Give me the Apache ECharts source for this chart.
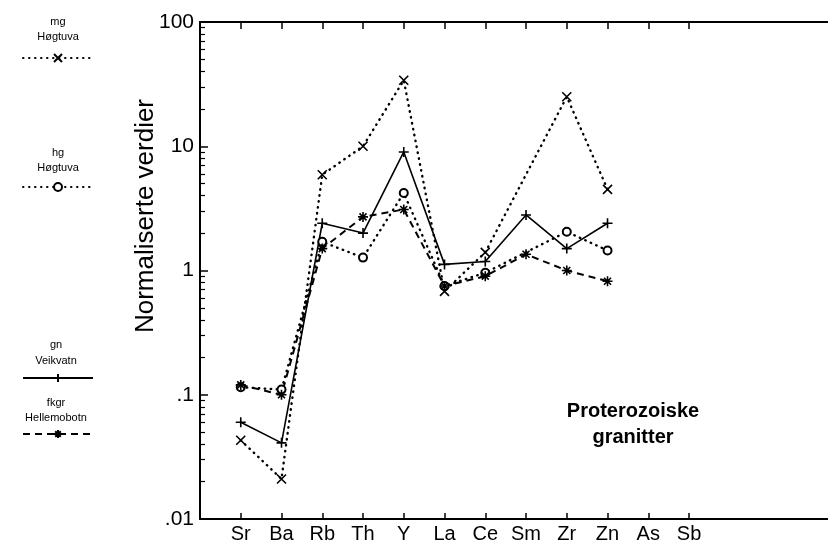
<!DOCTYPE html>
<html>
<head>
<meta charset="utf-8">
<script src="https://cdn.jsdelivr.net/npm/echarts@6/dist/echarts.min.js"></script>
<style>html,body{margin:0;padding:0;background:#fff}#c{width:828px;height:550px}</style>
</head>
<body>
<div id="c"></div>
<script>
const categories = ['Sr','Ba','Rb','Th','Y','La','Ce','Sm','Zr','Zn','As','Sb'];
// values per category (Sr..Zn); null = not plotted
const mgHogtuva      = [0.043, 0.021, 5.9, 10, 34, 0.68, 1.4, null, 25, 4.5];
const hgHogtuva      = [0.115, 0.11, 1.7, 1.27, 4.2, 0.75, 0.96, null, 2.05, 1.45];
const gnVeikvatn     = [0.06, 0.041, 2.4, 2.0, 9.0, 1.12, 1.18, 2.8, 1.5, 2.4];
const fkgrHellemobotn= [0.12, 0.1, 1.5, 2.7, 3.1, 0.75, 0.9, 1.35, 1.0, 0.82];
const yTickLabels = {0.01:'.01', 0.1:'.1', 1:'1', 10:'10', 100:'100'};

const FONT = 'Liberation Sans, Arial, sans-serif';
const toData = arr => arr.map((v,i)=>v==null?null:[i+1,v]).filter(d=>d);
const catIdx = categories.map((c,i)=>i+1);

const SYM_X = 'path://M0,0L10,10M10,0L0,10';
const SYM_PLUS = 'path://M5,0L5,10M0,5L10,5';
const SYM_STAR = 'path://M5,0L5,10M0,5L10,5M1.5,1.5L8.5,8.5M8.5,1.5L1.5,8.5';

function mk(name, data, symbol, size, lineStyle){
  return {
    name, type:'line', data: toData(data), symbol, symbolSize: size,
    connectNulls:true, clip:false,
    lineStyle: Object.assign({color:'#000'}, lineStyle),
    itemStyle:{color:'#000', borderColor:'#000', borderWidth:1.6},
    emphasis:{disabled:true}, animation:false
  };
}

const series = [
  mk('mg Høgtuva', mgHogtuva, SYM_X, 9, {width:2.4, type:[0.5,5.5], cap:'round'}),
  mk('hg Høgtuva', hgHogtuva, 'emptyCircle', 8, {width:2.4, type:[0.5,5.5], cap:'round'}),
  mk('gn Veikvatn', gnVeikvatn, SYM_PLUS, 10, {width:1.6, type:'solid'}),
  mk('fkgr Hellemobotn', fkgrHellemobotn, SYM_STAR, 10, {width:2, type:[7,5]})
];
series[1].itemStyle = {color:'#000', borderColor:'#000', borderWidth:1.6};

function legendAt(name, top){
  return {data:[name], left:22, top, itemWidth:70, itemHeight:10, itemGap:0, padding:0,
    selectedMode:false, formatter:()=>'', textStyle:{fontSize:1}};
}

const chart = echarts.init(document.getElementById('c'), null, {renderer:'canvas'});
chart.setOption({
  backgroundColor:'#fff',
  animation:false,
  grid:{left:200, right:0, top:22, bottom:31, containLabel:false},
  xAxis:[{
    type:'value', min:0, max:15.41, position:'bottom',
    axisLine:{show:true, lineStyle:{color:'#000', width:2}},
    axisTick:{show:true, inside:true, length:6, customValues:catIdx, lineStyle:{color:'#000', width:1.5}},
    axisLabel:{show:true, customValues:catIdx, formatter:v=>categories[Math.round(v)-1]||'', color:'#000', fontSize:20, fontFamily:FONT, margin:5},
    splitLine:{show:false}
  },{
    type:'value', min:0, max:15.41, position:'top',
    axisLine:{show:true, lineStyle:{color:'#000', width:2}},
    axisTick:{show:true, inside:true, length:7, customValues:catIdx, lineStyle:{color:'#000', width:1.5}},
    axisLabel:{show:false},
    splitLine:{show:false}
  }],
  yAxis:{
    type:'log', logBase:10, min:0.01, max:100,
    axisLine:{show:true, lineStyle:{color:'#000', width:2}},
    axisTick:{show:true, inside:true, length:8, lineStyle:{color:'#000', width:1.5}},
    minorTick:{show:true, splitNumber:9, length:5, lineStyle:{color:'#000', width:1.2}},
    axisLabel:{formatter:v=>yTickLabels[v]!==undefined?yTickLabels[v]:String(v), color:'#000', fontSize:21, fontFamily:FONT, margin:6},
    splitLine:{show:false}
  },
  legend:[
    legendAt('mg Høgtuva', 53),
    legendAt('hg Høgtuva', 182),
    legendAt('gn Veikvatn', 373),
    legendAt('fkgr Hellemobotn', 429)
  ],
  graphic:[
    {type:'text', x:146, y:216, rotation:Math.PI/2, style:{text:'Normaliserte verdier', font:'26px '+FONT, fill:'#000', align:'center', verticalAlign:'middle'}},
    {type:'text', x:633, y:411, style:{text:'Proterozoiske', font:'bold 20px '+FONT, fill:'#000', align:'center', verticalAlign:'middle'}},
    {type:'text', x:633, y:437, style:{text:'granitter', font:'bold 20px '+FONT, fill:'#000', align:'center', verticalAlign:'middle'}},
    {type:'text', x:58, y:22, style:{text:'mg', font:'11px '+FONT, fill:'#000', align:'center', verticalAlign:'middle'}},
    {type:'text', x:58, y:37, style:{text:'Høgtuva', font:'11px '+FONT, fill:'#000', align:'center', verticalAlign:'middle'}},
    {type:'text', x:58, y:153, style:{text:'hg', font:'11px '+FONT, fill:'#000', align:'center', verticalAlign:'middle'}},
    {type:'text', x:58, y:168, style:{text:'Høgtuva', font:'11px '+FONT, fill:'#000', align:'center', verticalAlign:'middle'}},
    {type:'text', x:56, y:345, style:{text:'gn', font:'11px '+FONT, fill:'#000', align:'center', verticalAlign:'middle'}},
    {type:'text', x:56, y:361, style:{text:'Veikvatn', font:'11px '+FONT, fill:'#000', align:'center', verticalAlign:'middle'}},
    {type:'text', x:56, y:403, style:{text:'fkgr', font:'11px '+FONT, fill:'#000', align:'center', verticalAlign:'middle'}},
    {type:'text', x:56, y:418, style:{text:'Hellemobotn', font:'11px '+FONT, fill:'#000', align:'center', verticalAlign:'middle'}}
  ],
  series
});
</script>
</body>
</html>
